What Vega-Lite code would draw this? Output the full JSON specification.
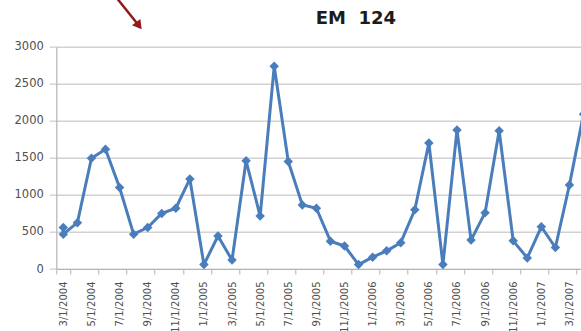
{
  "$schema": "https://vega.github.io/schema/vega-lite/v6.json",
  "autosize": {"type": "none"},
  "padding": {"left": 56.3, "top": 46.7, "right": 0, "bottom": 62},
  "width": 524.7,
  "height": 222.3,
  "background": "white",
  "title": {
    "text": "EM\u00a0 124",
    "font": "DejaVu Sans",
    "fontWeight": "bold",
    "fontSize": 18,
    "color": "#1c1c1c",
    "anchor": "middle",
    "frame": "group",
    "baseline": "alphabetic",
    "dx": 37.3,
    "offset": -45
  },
  "config": {
    "view": {"stroke": null},
    "font": "DejaVu Sans"
  },
  "datasets": {
    "series": [
      {"month": "3/1/2004", "value": 560},
      {"month": "3/1/2004", "value": 470},
      {"month": "4/1/2004", "value": 625},
      {"month": "5/1/2004", "value": 1495},
      {"month": "6/1/2004", "value": 1615},
      {"month": "7/1/2004", "value": 1100},
      {"month": "8/1/2004", "value": 470},
      {"month": "9/1/2004", "value": 560},
      {"month": "10/1/2004", "value": 750},
      {"month": "11/1/2004", "value": 820},
      {"month": "12/1/2004", "value": 1215},
      {"month": "1/1/2005", "value": 60},
      {"month": "2/1/2005", "value": 445},
      {"month": "3/1/2005", "value": 120},
      {"month": "4/1/2005", "value": 1460},
      {"month": "5/1/2005", "value": 715},
      {"month": "6/1/2005", "value": 2735},
      {"month": "7/1/2005", "value": 1450},
      {"month": "8/1/2005", "value": 865},
      {"month": "9/1/2005", "value": 820},
      {"month": "10/1/2005", "value": 375},
      {"month": "11/1/2005", "value": 310},
      {"month": "12/1/2005", "value": 60},
      {"month": "1/1/2006", "value": 160},
      {"month": "2/1/2006", "value": 245},
      {"month": "3/1/2006", "value": 355},
      {"month": "4/1/2006", "value": 800},
      {"month": "5/1/2006", "value": 1700},
      {"month": "6/1/2006", "value": 60},
      {"month": "7/1/2006", "value": 1875},
      {"month": "8/1/2006", "value": 390},
      {"month": "9/1/2006", "value": 760},
      {"month": "10/1/2006", "value": 1865},
      {"month": "11/1/2006", "value": 380},
      {"month": "12/1/2006", "value": 150},
      {"month": "1/1/2007", "value": 570},
      {"month": "2/1/2007", "value": 290},
      {"month": "3/1/2007", "value": 1135},
      {"month": "4/1/2007", "value": 2090}
    ],
    "arrowShaft": [
      {"month": "7/1/2004", "month_end": "9/1/2004", "value": 3657, "value_end": 3300}
    ],
    "arrowHead": [
      {"month": "9/1/2004", "value": 3283}
    ]
  },
  "encoding": {
    "x": {
      "field": "month",
      "type": "ordinal",
      "scale": {
        "type": "band",
        "paddingInner": 0,
        "paddingOuter": 0,
        "range": [0, 548.3],
        "domain": [
          "3/1/2004", "4/1/2004", "5/1/2004", "6/1/2004", "7/1/2004", "8/1/2004", "9/1/2004", "10/1/2004", "11/1/2004", "12/1/2004",
          "1/1/2005", "2/1/2005", "3/1/2005", "4/1/2005", "5/1/2005", "6/1/2005", "7/1/2005", "8/1/2005", "9/1/2005", "10/1/2005", "11/1/2005", "12/1/2005",
          "1/1/2006", "2/1/2006", "3/1/2006", "4/1/2006", "5/1/2006", "6/1/2006", "7/1/2006", "8/1/2006", "9/1/2006", "10/1/2006", "11/1/2006", "12/1/2006",
          "1/1/2007", "2/1/2007", "3/1/2007", "4/1/2007", "5/1/2007"
        ]
      },
      "axis": {
        "title": null,
        "values": [
          "3/1/2004", "5/1/2004", "7/1/2004", "9/1/2004", "11/1/2004",
          "1/1/2005", "3/1/2005", "5/1/2005", "7/1/2005", "9/1/2005", "11/1/2005",
          "1/1/2006", "3/1/2006", "5/1/2006", "7/1/2006", "9/1/2006", "11/1/2006",
          "1/1/2007", "3/1/2007", "5/1/2007"
        ],
        "tickBand": "extent",
        "labelAngle": 270,
        "labelFont": "DejaVu Sans",
        "labelFontSize": 10,
        "labelColor": "#4f4f4f",
        "labelPadding": 7,
        "labelOverlap": false,
        "tickSize": 5,
        "tickColor": "#b3b3b3",
        "tickWidth": 1,
        "domainColor": "#b3b3b3",
        "domainWidth": 1.2,
        "grid": false
      }
    },
    "y": {
      "field": "value",
      "type": "quantitative",
      "scale": {"domain": [0, 3000], "nice": false, "zero": true},
      "axis": {
        "title": null,
        "values": [0, 500, 1000, 1500, 2000, 2500, 3000],
        "format": "d",
        "labelFont": "DejaVu Sans",
        "labelFontSize": 11.5,
        "labelColor": "#4f4f4f",
        "labelPadding": 6,
        "tickSize": 7,
        "tickColor": "#cfcfcf",
        "tickWidth": 1.3,
        "domainColor": "#b3b3b3",
        "domainWidth": 1.2,
        "grid": true,
        "gridColor": "#d2d2d2",
        "gridWidth": 1.4
      }
    }
  },
  "layer": [
    {
      "data": {"name": "series"},
      "mark": {
        "type": "line",
        "color": "#4a7dbb",
        "strokeWidth": 3,
        "strokeJoin": "round",
        "strokeCap": "round",
        "point": {"shape": "diamond", "filled": true, "size": 90, "color": "#4a7dbb", "opacity": 1}
      },
      "encoding": {
        "order": {"value": null}
      }
    },
    {
      "data": {"name": "arrowShaft"},
      "mark": {"type": "rule", "color": "#931a1a", "strokeWidth": 2.5, "xOffset": -2.8, "x2Offset": -9.7},
      "encoding": {
        "x2": {"field": "month_end"},
        "y2": {"field": "value_end"}
      }
    },
    {
      "data": {"name": "arrowHead"},
      "mark": {"type": "point", "shape": "triangle-up", "filled": true, "size": 110, "angle": 142.8, "color": "#931a1a", "opacity": 1, "xOffset": -8.75}
    }
  ]
}
